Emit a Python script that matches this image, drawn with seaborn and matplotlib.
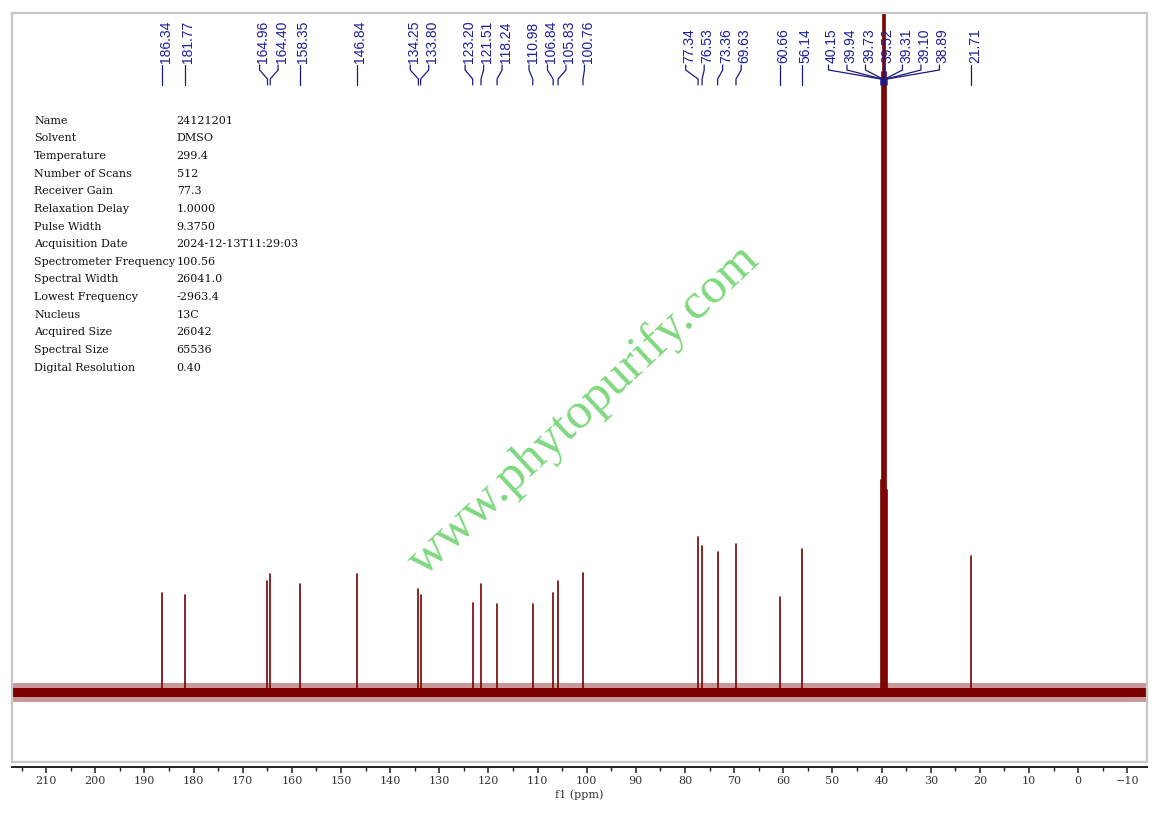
import numpy as np
import pandas as pd
import matplotlib
matplotlib.use("Agg")
import matplotlib.pyplot as plt
import matplotlib.transforms as mtransforms
from matplotlib.patches import Rectangle
from matplotlib.ticker import MultipleLocator
import seaborn as sns

# ---------------- data ----------------
peak_ppm = [186.34, 181.77, 164.96, 164.40, 158.35, 146.84, 134.25, 133.80,
            123.20, 121.51, 118.24, 110.98, 106.84, 105.83, 100.76,
            77.34, 76.53, 73.36, 69.63, 60.66, 56.14,
            40.15, 39.94, 39.73, 39.52, 39.31, 39.10, 38.89, 21.71]
peak_height = [99, 97, 111, 118, 108, 118, 103, 97,
               89, 108, 88, 88, 99, 111, 119,
               155, 146, 140, 148, 95, 143,
               212, 620, 1200, 1400, 1200, 620, 202, 136]

param_names = ["Name", "Solvent", "Temperature", "Number of Scans", "Receiver Gain",
               "Relaxation Delay", "Pulse Width", "Acquisition Date",
               "Spectrometer Frequency", "Spectral Width", "Lowest Frequency",
               "Nucleus", "Acquired Size", "Spectral Size", "Digital Resolution"]
param_values = ["24121201", "DMSO", "299.4", "512", "77.3", "1.0000", "9.3750",
                "2024-12-13T11:29:03", "100.56", "26041.0", "-2963.4", "13C",
                "26042", "65536", "0.40"]

x_label = "f1 (ppm)"
watermark = "www.phytopurify.com"

# ---------------- style ----------------
sns.set_theme(style="white")
plt.rcParams["font.family"] = ["DejaVu Serif"]

W, H = 1159, 816
fig = plt.figure(figsize=(W / 100, H / 100), dpi=100)


def fx(px):
    return px / W


def fy(py):
    return 1 - py / H


FRAME_TOP, FRAME_BOT = 13, 762
ax = fig.add_axes([fx(11.7), fy(FRAME_BOT), fx(1147) - fx(11.7), fy(FRAME_TOP) - fy(FRAME_BOT)])

RED = "#7a0000"

# stick spectrum via seaborn
rows = []
for i, (p, h) in enumerate(zip(peak_ppm, peak_height)):
    rows.append({"ppm": p, "intensity": 0.0, "peak": i})
    rows.append({"ppm": p, "intensity": float(h), "peak": i})
df = pd.DataFrame(rows)
sns.lineplot(data=df, x="ppm", y="intensity", units="peak", estimator=None,
             sort=False, color=RED, lw=1.2, ax=ax, legend=False, zorder=3)

# baseline noise band
ax.axhspan(-10, 9, color=RED, alpha=0.4, lw=0, zorder=2)
ax.axhspan(-5, 4, color=RED, alpha=1.0, lw=0, zorder=2)

ax.set_xlim(217.0, -14.0)
ax.set_ylim(-70, 679)
ax.set_yticks([])
ax.set_ylabel("")

for s in ["left", "right", "top"]:
    ax.spines[s].set_visible(False)
ax.spines["bottom"].set_position(("outward", 3.4))
ax.spines["bottom"].set_color("#222222")
ax.spines["bottom"].set_linewidth(1.4)
ax.add_patch(Rectangle((0, 0), 1, 1, transform=ax.transAxes, fill=False,
                       ec="#c8c8c8", lw=1.6, clip_on=False, zorder=5))

ax.xaxis.set_major_locator(MultipleLocator(10))
ax.xaxis.set_minor_locator(MultipleLocator(5))
ax.tick_params(axis="x", which="major", bottom=True, direction="out", length=4.5,
               width=1.1, color="#222222", labelsize=8, pad=2.5, labelcolor="#333333")
ax.tick_params(axis="x", which="minor", bottom=True, direction="out", length=3,
               width=1.0, color="#222222")
ax.set_xlabel(x_label, fontsize=8, labelpad=2, color="#333333")

# ---------------- peak labels ----------------
def spread(positions, gap):
    # positions in ppm; returns label positions (same order) spaced >= gap
    order = sorted(range(len(positions)), key=lambda k: -positions[k])
    u = [-positions[k] for k in order]
    clusters = [[v] for v in u]
    changed = True
    while changed:
        changed = False
        placed = []
        for c in clusters:
            m = np.mean(c)
            n = len(c)
            placed.append([m + (j - (n - 1) / 2) * gap for j in range(n)])
        for i in range(len(clusters) - 1):
            if placed[i + 1][0] - placed[i][-1] < gap - 1e-9:
                clusters[i] = clusters[i] + clusters[i + 1]
                del clusters[i + 1]
                changed = True
                break
    out = [0.0] * len(positions)
    flat = []
    for c in clusters:
        m = np.mean(c)
        n = len(c)
        flat += [m + (j - (n - 1) / 2) * gap for j in range(n)]
    for k, v in zip(order, flat):
        out[k] = -v
    return out


label_pos = spread(peak_ppm, 3.76)
trans = mtransforms.blended_transform_factory(ax.transData, ax.transAxes)
trans_txt = mtransforms.offset_copy(trans, fig=fig, x=3.5, y=0, units="dots")


def ay(py):
    return 1 - (py - FRAME_TOP) / (FRAME_BOT - FRAME_TOP)


for p, lp in zip(peak_ppm, label_pos):
    ax.plot([lp, lp, p, p], [ay(65), ay(70), ay(79), ay(85)], transform=trans,
            color="#1a1a80", lw=0.9, clip_on=False, zorder=6)
    ax.text(lp, ay(63), f"{p:.2f}", rotation=90, ha="center", va="bottom",
            transform=trans_txt, fontsize=10, color="#1c1c9a",
            family=["Liberation Sans", "DejaVu Sans"], zorder=6)

# ---------------- parameter table ----------------
for i, (n, v) in enumerate(zip(param_names, param_values)):
    yy = fy(120.7 + 17.64 * i)
    fig.text(fx(34), yy, n, ha="left", va="center", fontsize=8, color="#111111")
    fig.text(fx(176.7), yy, v, ha="left", va="center", fontsize=8, color="#111111")

# ---------------- watermark ----------------
fig.text(fx(584), fy(410), watermark, rotation=43, ha="center", va="center",
         rotation_mode="anchor", fontsize=37, color="#80d880",
         family=["Liberation Serif", "DejaVu Serif"], zorder=10)

fig.savefig("out.png", dpi=100, facecolor="white")
